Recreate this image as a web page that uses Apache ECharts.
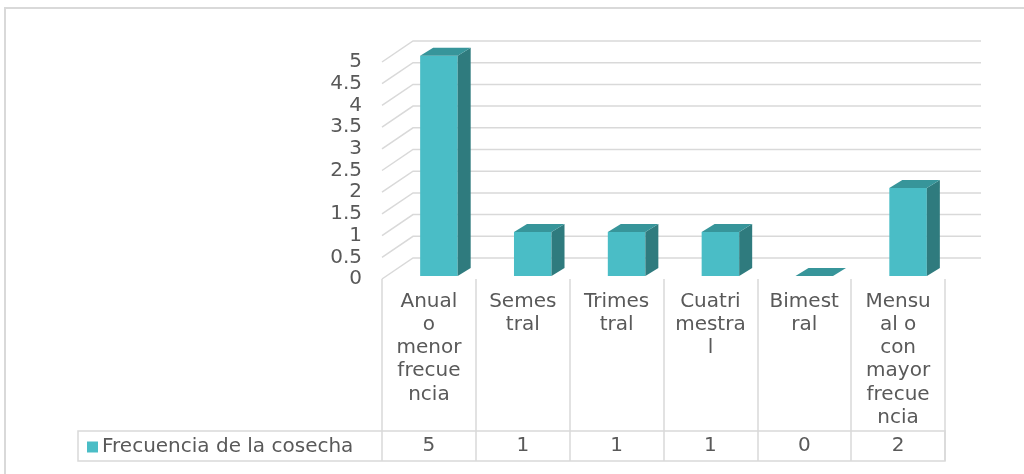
<!DOCTYPE html>
<html>
<head>
<meta charset="utf-8">
<style>
  html, body { margin: 0; padding: 0; background: #ffffff; }
  #chart { width: 1024px; height: 474px; }
</style>
<script src="https://cdn.jsdelivr.net/npm/echarts@6/dist/echarts.min.js"></script>
</head>
<body>
<div id="chart"></div>
<script>
// ---- data ----
const categories = [
  "Anual\no\nmenor\nfrecue\nncia",
  "Semes\ntral",
  "Trimes\ntral",
  "Cuatri\nmestra\nl",
  "Bimest\nral",
  "Mensu\nal o\ncon\nmayor\nfrecue\nncia"
];
const seriesName = "Frecuencia de la cosecha";
const values = [5, 1, 1, 1, 0, 2];
const yTicks = [0, 0.5, 1, 1.5, 2, 2.5, 3, 3.5, 4, 4.5, 5];

// ---- style ----
const FONT = "DejaVu Sans";
const TXT = "#595959";
const GRIDC = "#d9d9d9";
const FRONT = "#4ABDC6";
const SIDE = "#2F7B7E";
const TOP = "#37959A";
const WALL_DX = 31, WALL_DY = -21;   // back wall offset
const BAR_DX = 13, BAR_DY = -8;      // bar depth
const BAR_SHIFT = 10, BAR_LIFT = 3, BAR_SCALE = 1.015, BAR_W = 0.4;

const chart = echarts.init(document.getElementById('chart'), null, { renderer: 'canvas' });

const option = {
  animation: false,
  backgroundColor: '#ffffff',
  textStyle: { fontFamily: FONT },
  grid: { left: 382, right: 79, top: 62, bottom: 195, containLabel: false },
  legend: {
    show: true,
    left: 82, top: 432,
    itemWidth: 11, itemHeight: 11, itemGap: 0,
    icon: 'rect',
    textStyle: { fontFamily: FONT, fontSize: 20, color: TXT, padding: [0, 0, 0, -1] },
    data: [seriesName]
  },
  xAxis: [
    {
      type: 'category',
      data: categories,
      position: 'bottom',
      axisLine: { show: false },
      axisTick: { show: true, length: 182, lineStyle: { color: GRIDC, width: 1.5 } },
      axisLabel: {
        interval: 0, margin: 11, color: TXT, fontFamily: FONT, fontSize: 20,
        lineHeight: 23.2, align: 'center', verticalAlign: 'top'
      },
      splitLine: { show: false }
    },
    {
      type: 'category',
      data: values.map(String),
      position: 'bottom',
      axisLine: { show: false },
      axisTick: { show: false },
      axisLabel: {
        interval: 0, margin: 157, color: TXT, fontFamily: FONT, fontSize: 20,
        align: 'center', verticalAlign: 'top'
      },
      splitLine: { show: false }
    }
  ],
  yAxis: {
    type: 'value', min: 0, max: 5, interval: 0.5,
    axisLine: { show: false },
    axisTick: { show: false },
    splitLine: { show: false },
    axisLabel: { margin: 20, color: TXT, fontFamily: FONT, fontSize: 20, formatter: v => String(v) }
  },
  graphic: [
    { type: 'rect', shape: { x: 5, y: 8, width: 1040, height: 490 }, style: { fill: 'none', stroke: GRIDC, lineWidth: 2 }, z: 0 },
    { type: 'rect', shape: { x: 78, y: 431, width: 867, height: 30 }, style: { fill: 'none', stroke: GRIDC, lineWidth: 1.5 }, z: 1 }
  ],
  series: [
    {
      // back wall gridlines + side-wall diagonals
      type: 'custom',
      name: 'walls',
      silent: true,
      xAxisIndex: 0,
      z: 1,
      data: yTicks.map(t => [0, t]),
      renderItem: function (params, api) {
        const t = api.value(1);
        const cs = params.coordSys;
        const p = api.coord([0, t]);
        const xl = cs.x, xr = cs.x + cs.width;
        const y = p[1];
        return {
          type: 'polyline',
          shape: { points: [[xl, y], [xl + WALL_DX, y + WALL_DY], [xr + WALL_DX + 5, y + WALL_DY]] },
          style: { stroke: GRIDC, lineWidth: 1.5, fill: 'none' }
        };
      }
    },
    {
      type: 'custom',
      name: seriesName,
      xAxisIndex: 0,
      z: 3,
      itemStyle: { color: FRONT },
      data: values.map((v, i) => [i, v]),
      renderItem: function (params, api) {
        const i = api.value(0), v = api.value(1);
        const base = api.coord([i, 0]);
        const top = api.coord([i, v]);
        const bw = api.size([1, 0])[0] * BAR_W;
        const cx = base[0] + BAR_SHIFT;
        const x0 = cx - bw / 2, x1 = cx + bw / 2;
        const yb = base[1] - BAR_LIFT;
        const yt = yb - (base[1] - top[1]) * BAR_SCALE;
        const children = [];
        if (v > 0) {
          children.push({
            type: 'rect', shape: { x: x0, y: yt, width: bw, height: yb - yt },
            style: { fill: FRONT }
          });
          children.push({
            type: 'polygon',
            shape: { points: [[x1, yb], [x1 + BAR_DX, yb + BAR_DY], [x1 + BAR_DX, yt + BAR_DY], [x1, yt]] },
            style: { fill: SIDE }
          });
        }
        children.push({
          type: 'polygon',
          shape: { points: [[x0, yt], [x0 + BAR_DX, yt + BAR_DY], [x1 + BAR_DX, yt + BAR_DY], [x1, yt]] },
          style: { fill: TOP }
        });
        return { type: 'group', children: children };
      }
    }
  ]
};

chart.setOption(option);
</script>
</body>
</html>
